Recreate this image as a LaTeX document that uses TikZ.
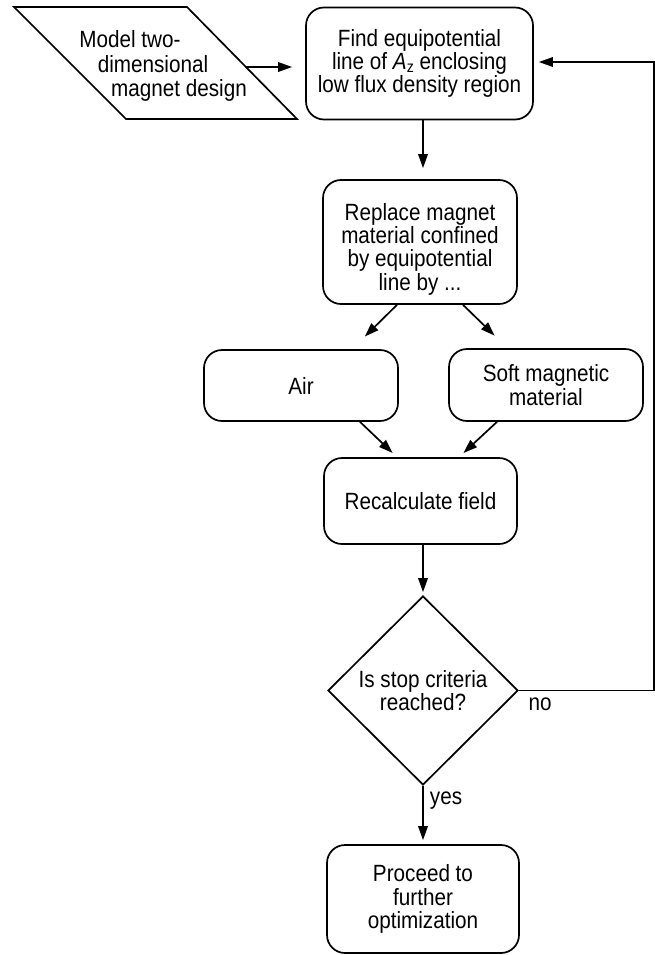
\documentclass[tikz,border=0pt]{standalone}
\usepackage{fontspec}
\setmainfont{Liberation Sans}[FakeStretch=0.88]
\usetikzlibrary{arrows.meta,shapes.geometric}
\begin{document}
\begin{tikzpicture}[x=1pt,y=-1pt,
  every node/.style={font=\fontsize{23.5}{23.3}\selectfont, align=center},
  box/.style={draw, line width=1.7pt, rounded corners=18pt, inner sep=0pt},
  ln/.style={line width=1.7pt},
  arr/.style={line width=1.7pt, -{Triangle[length=14pt,width=9.5pt]}}]
\useasboundingbox (0,0) rectangle (655,955);
% input parallelogram
\coordinate (p1) at (14,7);
\coordinate (p2) at (187,7);
\coordinate (p3) at (297,119);
\coordinate (p4) at (126,119);
\draw[ln, line join=miter] (p1) -- (p2) -- (p3) -- (p4) -- cycle;
\node[inner sep=0pt, font=\fontsize{23.5}{24.5}\selectfont] (model) at (153,66) {Model two-\hspace*{46pt}\\dimensional\\\hspace*{52pt}magnet design};
\coordinate (pe) at (246,67);
% boxes
\node[box, minimum width=227pt, minimum height=112pt] (find) at (419.5,63.5)
  {Find equipotential\\line of \textit{A}\raisebox{-3pt}{\fontsize{16}{16}\selectfont z} enclosing\\low flux density region};
\node[box, minimum width=194pt, minimum height=124pt] (rep) at (420,242) {};
\node[inner sep=0pt] (reptext) at (420,249)
  {Replace magnet\\material confined\\by equipotential\\line by ...};
\node[box, minimum width=194pt, minimum height=71pt] (air) at (301,385.5) {Air};
\node[box, minimum width=194pt, minimum height=72pt] (soft) at (546,385) {Soft magnetic\\material};
\node[box, minimum width=193pt, minimum height=86pt] (recalc) at (420.5,501) {Recalculate field};
\node[draw, ln, shape=diamond, inner sep=0pt, minimum width=190pt, minimum height=189pt] (dia) at (423,690.5)
  {Is stop criteria\\reached?};
\node[box, minimum width=192pt, minimum height=108pt] (last) at (423,899)
  {Proceed to\\further\\optimization};
% labels
\node (no) at (540,704) {no};
\node (yes) at (446,801) {yes};
% connectors
\coordinate (cx) at (423,0);
\draw[arr, shorten >=13pt] (pe) -- (find.west |- pe);
\draw[arr, shorten >=11pt] (find.south -| cx) -- (rep.north -| cx);
\draw[arr, shorten >=18pt] ([xshift=-23pt]rep.south) -- ([xshift=51pt]air.north);
\draw[arr, shorten >=18pt] ([xshift=43pt]rep.south) -- ([xshift=-38.5pt]soft.north);
\draw[arr, shorten >=6pt] ([xshift=59pt]air.south) -- ([xshift=-23.5pt]recalc.north);
\draw[arr, shorten >=6pt] ([xshift=-49pt]soft.south) -- ([xshift=38.5pt]recalc.north);
\draw[arr, shorten >=3pt] (recalc.south -| cx) -- (dia.north);
\draw[arr, shorten >=4pt] (dia.south) -- (last.north -| dia.south);
\coordinate (fb1) at (654,690.5);
\coordinate (fb2) at (654,62);
\draw[arr, shorten >=5pt] (dia.east) -- (fb1) -- (fb2) -- (find.east |- fb2);
\end{tikzpicture}
\end{document}
